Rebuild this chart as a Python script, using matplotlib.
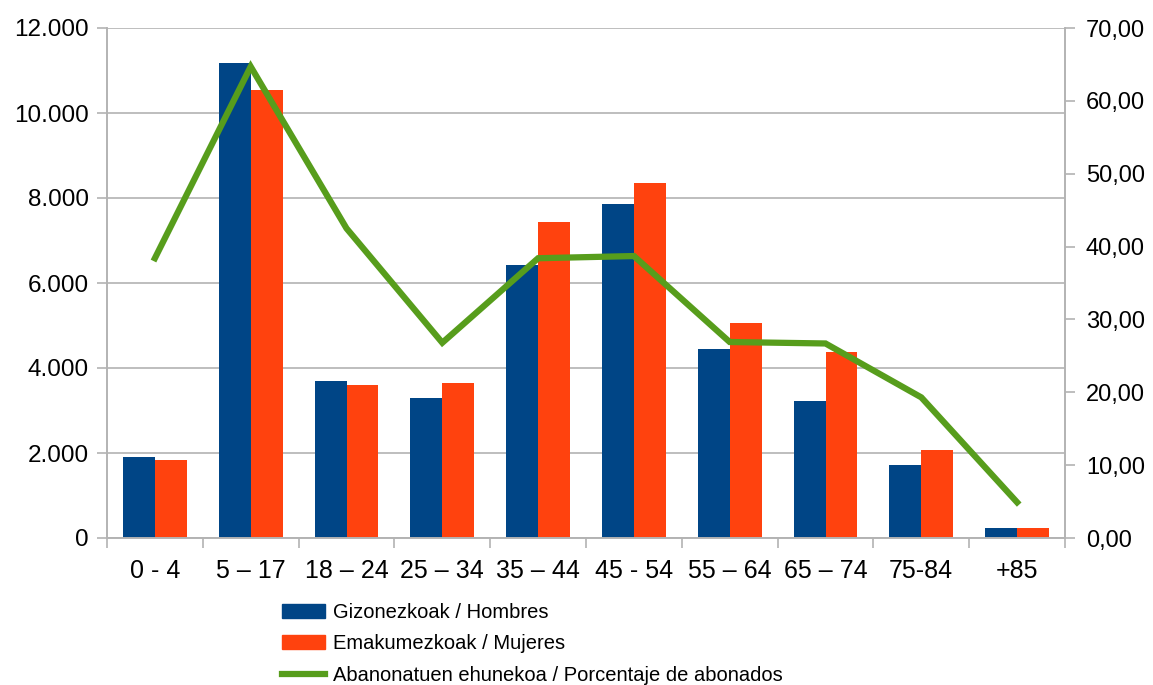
import matplotlib
matplotlib.use("Agg")
import matplotlib.pyplot as plt
import numpy as np
from matplotlib.patches import Patch
from matplotlib.lines import Line2D
from matplotlib.ticker import FuncFormatter, MultipleLocator

plt.rcParams['font.family'] = ['Liberation Sans', 'DejaVu Sans']

categories = ['0 - 4', '5 – 17', '18 – 24', '25 – 34', '35 – 44', '45 - 54',
              '55 – 64', '65 – 74', '75-84', '+85']
hombres = [1900, 11180, 3690, 3290, 6420, 7860, 4440, 3220, 1710, 230]
mujeres = [1830, 10540, 3600, 3640, 7430, 8350, 5050, 4370, 2060, 230]
porcentaje = [38.4, 64.7, 42.5, 26.8, 38.4, 38.7, 26.9, 26.7, 19.3, 4.9]

c_blue = '#004586'
c_orange = '#ff420e'
c_green = '#579d1c'
c_grid = '#b3b3b3'

fig = plt.figure(figsize=(11.53, 6.85), dpi=100)
ax = fig.add_axes([107/1153, 1 - 538/685, (1065-107)/1153, (538-28)/685])

x = np.arange(len(categories))
w = 0.334
ax.bar(x - w/2, hombres, w, color=c_blue, zorder=2)
ax.bar(x + w/2, mujeres, w, color=c_orange, zorder=2)

ax.set_xlim(-0.5, len(categories) - 0.5)
ax.set_ylim(0, 12000)
ax.yaxis.set_major_locator(MultipleLocator(2000))
ax.yaxis.set_major_formatter(FuncFormatter(lambda v, p: f"{int(v):,}".replace(',', '.')))
ax.grid(axis='y', color=c_grid, linewidth=1.2, zorder=0)
ax.set_axisbelow(True)

ax.set_xticks(x)
ax.set_xticklabels(categories)
ax.set_xticks(np.arange(-0.5, len(categories)), minor=True)
ax.tick_params(axis='x', which='major', length=0, pad=15, labelsize=18)
ax.tick_params(axis='x', which='minor', length=7, color=c_grid, width=1.2)
ax.tick_params(axis='y', length=7, color=c_grid, width=1.2, labelsize=17.5, pad=6)
for s in ['left', 'bottom', 'right']:
    ax.spines[s].set_color(c_grid)
    ax.spines[s].set_linewidth(1.2)
ax.spines['top'].set_visible(False)

ax2 = ax.twinx()
ax2.plot(x, porcentaje, color=c_green, linewidth=4.5, solid_joinstyle='miter', zorder=3)
ax2.set_ylim(0, 70)
ax2.yaxis.set_major_locator(MultipleLocator(10))
ax2.yaxis.set_major_formatter(FuncFormatter(lambda v, p: f"{v:.2f}".replace('.', ',')))
ax2.tick_params(axis='y', length=7, color=c_grid, width=1.2, labelsize=17, pad=8)
for s in ['left', 'bottom', 'right']:
    ax2.spines[s].set_color(c_grid)
    ax2.spines[s].set_linewidth(1.2)
ax2.spines['top'].set_visible(False)

handles = [Patch(color=c_blue), Patch(color=c_orange),
           Line2D([0], [0], color=c_green, linewidth=4.5)]
labels = ['Gizonezkoak / Hombres', 'Emakumezkoak / Mujeres',
          'Abanonatuen ehunekoa / Porcentaje de abonados']
fig.legend(handles, labels, loc='upper left', bbox_to_anchor=(282/1153, 1 - 603/685),
           frameon=False, fontsize=14.5, handlelength=2.14, handletextpad=0.4,
           labelspacing=0.62, borderpad=0, borderaxespad=0)

fig.savefig('out.png', dpi=100)
